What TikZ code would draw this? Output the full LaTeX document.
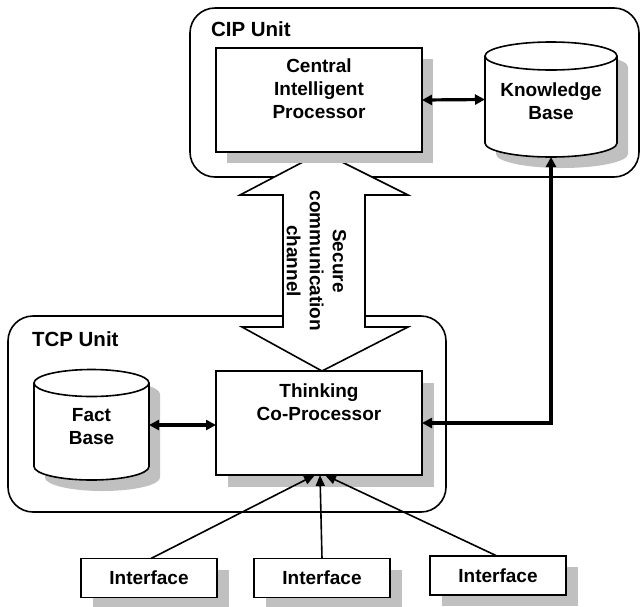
\documentclass[tikz,border=0pt]{standalone}
\usepackage{fontspec}
\setmainfont{Liberation Sans}
\usetikzlibrary{arrows.meta,calc}
\definecolor{shadowgrey}{RGB}{192,192,192}
\newcommand{\drawcyl}[6]{%
  \path[#6] (#1-#4,#2) -- (#1-#4,#3)
    arc[start angle=180,end angle=0,x radius=#4,y radius=#5]
    -- (#1+#4,#2)
    arc[start angle=0,end angle=-180,x radius=#4,y radius=#5] -- cycle;}
\begin{document}
\begin{tikzpicture}[x=1pt,y=-1pt,
  every node/.style={inner sep=0pt,outer sep=0pt},
  boxstyle/.style={draw=black,line width=1.6pt,fill=white},
  rimline/.style={draw=black,line width=1.6pt},
  shadowfill/.style={fill=shadowgrey,draw=none},
  lbl/.style={font=\bfseries\fontsize{19}{23}\selectfont,align=center},
  unitlbl/.style={font=\bfseries\fontsize{20.5}{23}\selectfont,anchor=west},
  unitbox/.style={draw=black,line width=1.6pt,rounded corners=25pt},
  anchorbox/.style={draw=none},
  procbox/.style={boxstyle,minimum width=206pt,minimum height=104pt},
  ifbox/.style={boxstyle,minimum width=136pt,minimum height=39pt,font=\bfseries\fontsize{19}{22}\selectfont},
  twoway/.style={line width=3.2pt,{Triangle[length=10pt,width=10pt]}-{Triangle[length=10pt,width=10pt]}},
  inarrow/.style={line width=1.6pt,-{Triangle[length=11pt,width=9pt]}},
  bigarrow/.style={draw=black,line width=1.6pt,fill=white,line join=miter}
]
\useasboundingbox (0,0) rectangle (640,606);

% unit containers
\node[unitbox,minimum width=449pt,minimum height=169pt] (cipunit) at (414.5,92.5) {};
\node[unitbox,minimum width=438pt,minimum height=196pt] (tcpunit) at (227,414) {};
\node[unitlbl] (ciplbl) at (211,29) {CIP Unit};
\node[unitlbl] (tcplbl) at (32,339) {TCP Unit};

% anchor nodes for the main elements
\node[anchorbox,minimum width=206pt,minimum height=104pt] (cip) at (319,100) {};
\node[anchorbox,minimum width=206pt,minimum height=104pt] (tcp) at (319,423) {};
\node[anchorbox,minimum width=132pt,minimum height=115pt] (kb) at (551,99.5) {};
\node[anchorbox,minimum width=115pt,minimum height=110pt] (fact) at (91.5,425) {};

% big double arrow (secure channel)
\coordinate (atop) at ($(cip.south)+(3,0)$);
\coordinate (abot) at ($(tcp.north)+(3,0)$);
\fill[shadowfill,shift={(11,11)}] (atop) -- ++(86,43) -- ++(-43,0) |- ++(0,132) -- ++(43,0)
  -- (abot) -- ++(-80,-44) -- ++(41,0) -- ++(0,-132) -- ++(-43,0) -- cycle;
\path[bigarrow] (atop) -- ++(86,43) -- ++(-43,0) -- ++(0,132) -- ++(43,0)
  -- (abot) -- ++(-80,-44) -- ++(41,0) -- ++(0,-132) -- ++(-43,0) -- cycle;
\node[lbl,rotate=-90] (chan) at (316.5,261) {Secure\\communication\\channel};

% shadows
\fill[shadowfill] ([shift={(11,11)}]cip.south west) rectangle ([shift={(11,11)}]cip.north east);
\fill[shadowfill] ([shift={(12,12)}]tcp.south west) rectangle ([shift={(12,12)}]tcp.north east);
\drawcyl{562}{67}{154}{66}{14}{shadowfill}
\drawcyl{102.5}{394}{477.5}{57.5}{13.5}{shadowfill}

% processors
\node[procbox] (cipbox) at (cip) {};
\node[lbl] (ciptxt) at (319,89) {Central\\Intelligent\\Processor};
\node[procbox] (tcpbox) at (tcp) {};
\node[lbl] (tcptxt) at (319,402) {Thinking\\Co-Processor};

% cylinders
\drawcyl{551}{56}{143}{66}{14}{boxstyle}
\draw[rimline] (485,56) arc[start angle=180,end angle=0,x radius=66,y radius=14];
\node[lbl] (kbtxt) at (551,101) {Knowledge\\Base};
\drawcyl{91.5}{383}{466.5}{57.5}{13.5}{boxstyle}
\draw[rimline] (34,383) arc[start angle=180,end angle=0,x radius=57.5,y radius=13.5];
\node[lbl] (facttxt) at (91.5,427) {Fact\\Base};

% interfaces
\fill[shadowfill] (93,570) rectangle (229,609);
\fill[shadowfill] (266,570) rectangle (402,609);
\fill[shadowfill] (442,567) rectangle (578,606);
\node[ifbox] (if1) at (149,578) {Interface};
\node[ifbox] (if2) at (322,578) {Interface};
\node[ifbox] (if3) at (498,575.5) {Interface};

% connectors
\draw[twoway] (cip.east) -- (kb.west);
\draw[twoway] (fact.east) -- (fact.east -| tcp.west);
\draw[twoway] (kb.south) |- (tcp.east);
\draw[inarrow] ([xshift=2pt]if1.north) -- ([xshift=-4pt]tcp.south);
\draw[inarrow] (if2.north) -- ([xshift=1pt]tcp.south);
\draw[inarrow] ([xshift=-1pt]if3.north) -- ([xshift=6pt]tcp.south);
\end{tikzpicture}
\end{document}
